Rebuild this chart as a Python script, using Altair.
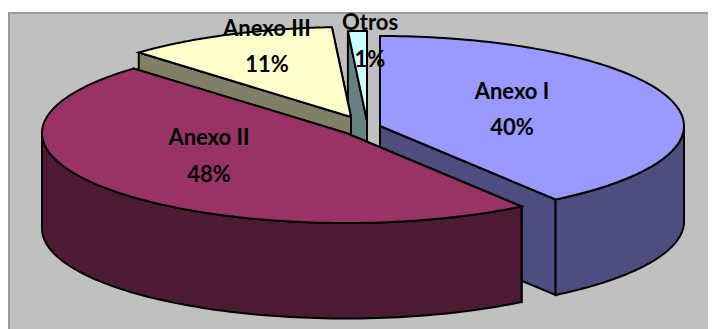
import numpy as np
import pandas as pd
import altair as alt

# --- data ---
categories = ["Anexo I", "Anexo II", "Anexo III", "Otros"]
shares = [40.2, 47.5, 11.3, 1.0]

# --- styling / layout ---
top_colors = ["#9999FF", "#993366", "#FFFFCC", "#CCFFFF"]
side_colors = ["#4D4D80", "#4D1A33", "#808066", "#668080"]
centers = [(380, 126), (346, 133), (351, 117), (367, 121)]  # exploded pie centres
label_pos = [(512, 92), (209, 138), (267, 29), (370, 23)]
label_gap = [36, 37, 36, 37]
RX, RY, DEPTH = 304, 90, 95.5
W, H = 700, 321
X_DOM = [8, 708]
Y_DOM = [329, 8]
x_enc = alt.X("x:Q", scale=alt.Scale(domain=X_DOM, nice=False, zero=False), axis=None)
y_enc = alt.Y("y:Q", scale=alt.Scale(domain=Y_DOM, nice=False, zero=False), axis=None)

ends = np.cumsum(shares) / np.sum(shares) * 360
starts = np.concatenate([[0], ends[:-1]])


def rim(i, t):
    t = np.radians(t)
    cx, cy = centers[i]
    return cx + RX * np.sin(t), cy - RY * np.cos(t)


def poly(xs, ys, fill):
    xs = list(xs) + [xs[0]]
    ys = list(ys) + [ys[0]]
    df = pd.DataFrame({"x": xs, "y": ys, "o": range(len(xs))})
    return (
        alt.Chart(df)
        .mark_line(fill=fill, stroke="black", strokeWidth=2, strokeJoin="miter", interpolate="linear")
        .encode(x=x_enc, y=y_enc, order=alt.Order("o:Q"))
    )


def slice_layers(i):
    a, b = starts[i], ends[i]
    cx, cy = centers[i]
    out = []
    for t in (b, a):  # cut faces
        rx, ry = rim(i, t)
        out.append(poly([cx, rx, rx, cx], [cy, ry, ry + DEPTH, cy + DEPTH], side_colors[i]))
    lo, hi = max(a, 90), min(b, 270)
    if hi > lo:  # outer wall
        ts = np.linspace(lo, hi, 90)
        px, py = rim(i, ts)
        out.append(poly(list(px) + list(px[::-1]), list(py) + list((py + DEPTH)[::-1]), side_colors[i]))
    ts = np.linspace(a, b, 120)
    px, py = rim(i, ts)
    out.append(poly([cx] + list(px), [cy] + list(py), top_colors[i]))
    return out


background = (
    alt.Chart(pd.DataFrame({"x": [9], "x2": [730], "y": [13], "y2": [345]}))
    .mark_rect(fill="#C0C0C0", stroke="#999999", strokeWidth=2)
    .encode(x=x_enc, x2="x2:Q", y=y_enc, y2="y2:Q")
)

layers = [background]
for i in [3, 2, 0, 1]:  # painter's order, back to front
    layers += slice_layers(i)

pct = ["40%", "48%", "11%", "1%"]
labels = pd.DataFrame(
    {
        "x": [p[0] for p in label_pos] * 2,
        "y": [p[1] for p in label_pos] + [p[1] + g for p, g in zip(label_pos, label_gap)],
        "t": categories + pct,
    }
)
text = (
    alt.Chart(labels)
    .mark_text(font="Lato", fontWeight="bold", fontSize=22, color="black", align="center", baseline="middle")
    .encode(x=x_enc, y=y_enc, text="t:N")
)
layers.append(text)

chart = (
    alt.layer(*layers)
    .properties(width=W, height=H, padding=0, autosize=alt.AutoSizeParams(type="none"), background="white")
    .configure_view(stroke=None)
)
chart.save("out.html", embed_options={"renderer": "svg", "actions": False})
